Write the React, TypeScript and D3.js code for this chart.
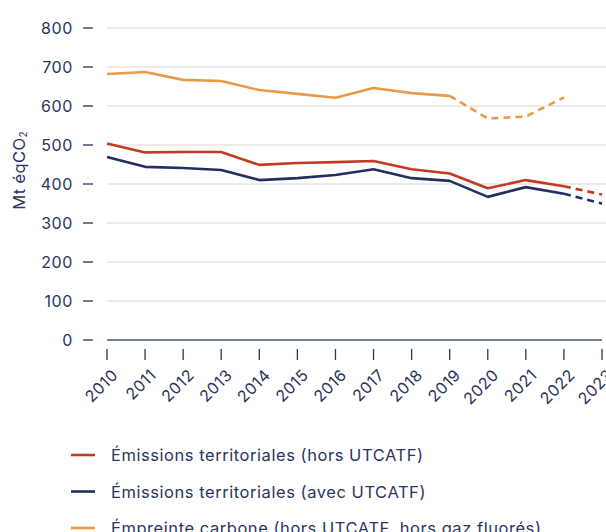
import React, { useRef, useEffect } from 'react';
import * as d3 from 'd3';

const years = [2010, 2011, 2012, 2013, 2014, 2015, 2016, 2017, 2018, 2019, 2020, 2021, 2022, 2023];
const territorialHors = [504, 481, 482, 482, 449, 454, 456, 459, 438, 427, 389, 410, 394, 373];
const territorialAvec = [469, 444, 441, 436, 410, 415, 423, 438, 415, 408, 367, 392, 375, 350];
const empreinte = [682, 687, 667, 664, 641, 631, 621, 646, 633, 626, 568, 573, 622, null];
const yTicks = [0, 100, 200, 300, 400, 500, 600, 700, 800];

const series = [
  { name: 'Émissions territoriales (hors UTCATF)', values: territorialHors, color: '#c23a26', dashFrom: 2022 },
  { name: 'Émissions territoriales (avec UTCATF)', values: territorialAvec, color: '#232f5c', dashFrom: 2022 },
  { name: 'Émpreinte carbone (hors UTCATF, hors gaz fluorés)', values: empreinte, color: '#e89a48', dashFrom: 2019 },
];

const W = 606, H = 532;
const TEXT = '#2b355e';
const FONT = 'Inter, "Open Sans", sans-serif';

const App = () => {
  const ref = useRef<SVGSVGElement>(null);

  useEffect(() => {
    const svg = d3.select(ref.current);
    svg.selectAll('*').remove();

    const x = d3.scaleLinear().domain([2010, 2023]).range([107, 602]);
    const y = d3.scaleLinear().domain([0, 800]).range([340, 28]);

    // grid
    svg.append('g')
      .selectAll('line')
      .data(yTicks.filter(d => d > 0))
      .join('line')
      .attr('x1', 107).attr('x2', W)
      .attr('y1', d => y(d)).attr('y2', d => y(d))
      .attr('stroke', '#dcd7cc').attr('stroke-width', 1.2);

    // y tick dashes + labels
    const yt = svg.append('g');
    yt.selectAll('line')
      .data(yTicks)
      .join('line')
      .attr('x1', 83).attr('x2', 93)
      .attr('y1', d => y(d)).attr('y2', d => y(d))
      .attr('stroke', TEXT).attr('stroke-width', 1.3);
    yt.selectAll('text')
      .data(yTicks)
      .join('text')
      .attr('x', 73).attr('y', d => y(d))
      .attr('text-anchor', 'end')
      .attr('dominant-baseline', 'central')
      .attr('font-family', FONT).attr('font-size', 16)
      .attr('letter-spacing', 0.6)
      .attr('fill', TEXT)
      .text(d => d);

    svg.append('text')
      .attr('transform', `translate(25,${y(435)}) rotate(-90)`)
      .attr('text-anchor', 'middle')
      .attr('font-family', FONT).attr('font-size', 16.5)
      .attr('letter-spacing', 0.4)
      .attr('fill', TEXT)
      .html('Mt éqCO<tspan font-size="10" dy="2">2</tspan>');

    // x axis
    svg.append('line')
      .attr('x1', x(2010)).attr('x2', x(2023))
      .attr('y1', y(0)).attr('y2', y(0))
      .attr('stroke', '#4a5375').attr('stroke-width', 1.5);
    const xt = svg.append('g');
    xt.selectAll('line')
      .data(years)
      .join('line')
      .attr('x1', d => x(d)).attr('x2', d => x(d))
      .attr('y1', 349).attr('y2', 360)
      .attr('stroke', TEXT).attr('stroke-width', 1.3);
    xt.selectAll('text')
      .data(years)
      .join('text')
      .attr('transform', d => `translate(${x(d) + 3},${367}) rotate(-45)`)
      .attr('text-anchor', 'end')
      .attr('dominant-baseline', 'hanging')
      .attr('font-family', FONT).attr('font-size', 16)
      .attr('letter-spacing', 0.5)
      .attr('fill', TEXT)
      .text(d => d);

    // lines
    const lineGen = d3.line<[number, number]>()
      .x(d => x(d[0])).y(d => y(d[1]));
    series.forEach(s => {
      const pts = years.map((yr, i) => [yr, s.values[i]] as [number, number]).filter(p => p[1] != null);
      const solid = pts.filter(p => p[0] <= s.dashFrom);
      const dashed = pts.filter(p => p[0] >= s.dashFrom);
      svg.append('path')
        .attr('d', lineGen(solid))
        .attr('fill', 'none').attr('stroke', s.color).attr('stroke-width', 2.6)
        .attr('stroke-linejoin', 'round');
      svg.append('path')
        .attr('d', lineGen(dashed))
        .attr('fill', 'none').attr('stroke', s.color).attr('stroke-width', 2.6)
        .attr('stroke-dasharray', '7,5');
    });

    // legend
    const lg = svg.append('g')
      .selectAll('g')
      .data(series)
      .join('g')
      .attr('transform', (d, i) => `translate(71,${455 + i * 36.5})`);
    lg.append('line')
      .attr('x1', 0).attr('x2', 24)
      .attr('stroke', d => d.color).attr('stroke-width', 2.6);
    lg.append('text')
      .attr('x', 40)
      .attr('dominant-baseline', 'central')
      .attr('font-family', FONT).attr('font-size', 16.5)
      .attr('letter-spacing', 0.55)
      .attr('fill', TEXT)
      .text(d => d.name);
  }, []);

  return (
    <svg ref={ref} width={W} height={H}
      style={{ position: 'absolute', left: 0, top: 0, background: '#fff' }} />
  );
};

export default App;
